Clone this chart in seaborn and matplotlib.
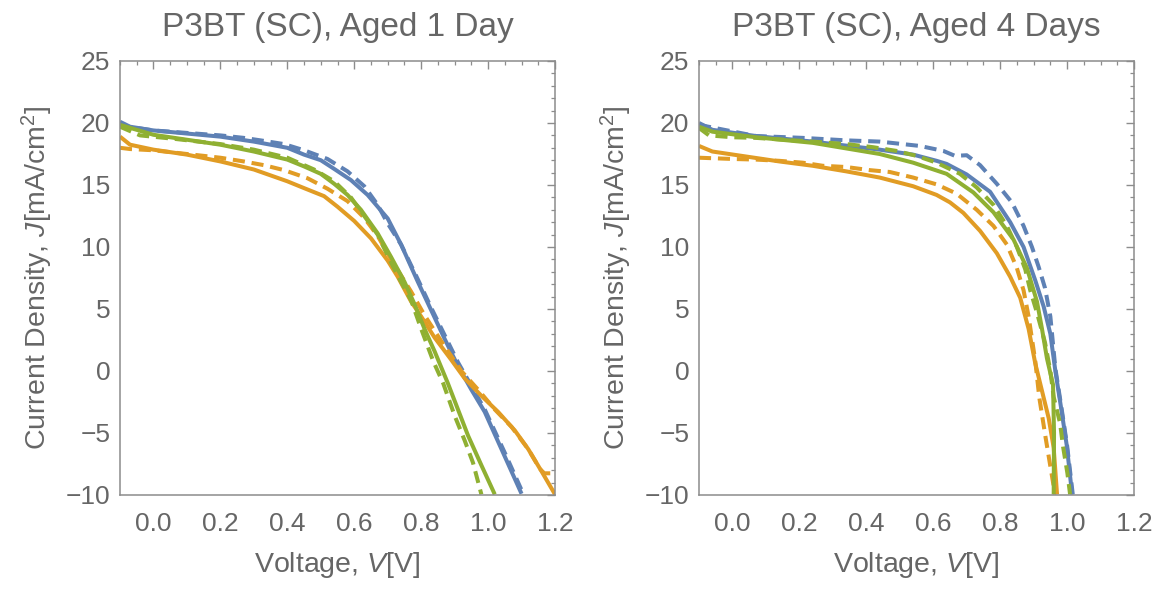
import matplotlib
matplotlib.use("Agg")
import matplotlib.pyplot as plt
import seaborn as sns
import pandas as pd
from matplotlib.ticker import MultipleLocator, FormatStrFormatter

# ---------------- data ----------------
titles = ["P3BT (SC), Aged 1 Day", "P3BT (SC), Aged 4 Days"]

# Aged 1 day
d1_blue_solid_v = [-0.10, -0.07, 0.00, 0.10, 0.20, 0.30, 0.40, 0.45, 0.50, 0.54, 0.59, 0.64, 0.70, 0.74, 0.79, 0.83, 0.87, 0.91, 0.95, 0.99, 1.05, 1.10]
d1_blue_solid_j = [20.1, 19.7, 19.4, 19.15, 18.9, 18.5, 18.0, 17.45, 17.0, 16.3, 15.4, 14.2, 12.3, 10.2, 7.2, 4.9, 2.6, 0.4, -1.5, -3.3, -6.9, -9.9]
d1_blue_dash_v = [-0.10, 0.00, 0.10, 0.20, 0.27, 0.32, 0.39, 0.45, 0.52, 0.58, 0.63, 0.67, 0.70, 0.74, 0.79, 0.83, 0.87, 0.91, 0.95, 0.99, 1.05, 1.11]
d1_blue_dash_j = [19.8, 19.4, 19.2, 19.0, 18.8, 18.6, 18.3, 17.8, 17.1, 16.1, 14.9, 13.4, 11.9, 10.2, 7.4, 5.1, 2.9, 0.7, -1.2, -3.1, -6.6, -10.2]
d1_orange_solid_v = [-0.10, -0.07, 0.00, 0.10, 0.20, 0.30, 0.40, 0.45, 0.51, 0.55, 0.60, 0.65, 0.70, 0.73, 0.77, 0.80, 0.84, 0.89, 0.93, 0.98, 1.03, 1.08, 1.12, 1.16, 1.20]
d1_orange_solid_j = [18.9, 18.25, 17.85, 17.45, 16.9, 16.25, 15.3, 14.75, 14.1, 13.25, 12.1, 10.7, 8.9, 7.6, 5.6, 4.4, 2.7, 0.9, -0.6, -2.0, -3.3, -4.8, -6.3, -8.1, -9.95]
d1_orange_dash_v = [-0.10, -0.07, 0.00, 0.10, 0.20, 0.27, 0.33, 0.39, 0.46, 0.52, 0.58, 0.63, 0.67, 0.71, 0.77, 0.81, 0.87, 0.92, 0.97, 1.02, 1.07, 1.12, 1.155, 1.168, 1.20]
d1_orange_dash_j = [18.0, 17.9, 17.8, 17.5, 17.2, 16.9, 16.6, 16.2, 15.55, 14.7, 13.7, 12.35, 10.9, 9.0, 6.4, 4.5, 2.0, 0.0, -1.5, -3.1, -4.5, -6.3, -7.9, -8.25, -8.25]
d1_green_solid_v = [-0.10, 0.00, 0.10, 0.20, 0.30, 0.40, 0.45, 0.50, 0.54, 0.58, 0.62, 0.67, 0.71, 0.75, 0.78, 0.81, 0.84, 0.88, 0.94, 0.98, 1.02]
d1_green_solid_j = [19.85, 19.05, 18.65, 18.25, 17.7, 17.05, 16.5, 15.9, 15.1, 14.2, 13.0, 11.1, 9.2, 7.2, 5.4, 3.4, 1.6, -1.0, -5.2, -7.6, -9.95]
d1_green_dash_v = [-0.10, -0.04, 0.07, 0.20, 0.30, 0.40, 0.48, 0.54, 0.59, 0.63, 0.67, 0.70, 0.73, 0.77, 0.80, 0.836, 0.866, 0.90, 0.93, 0.955, 0.98]
d1_green_dash_j = [19.7, 19.0, 18.7, 18.3, 17.85, 17.2, 16.25, 15.3, 14.0, 12.5, 11.0, 9.3, 7.7, 5.7, 3.4, 0.8, -1.0, -3.6, -5.6, -7.4, -9.95]

# Aged 4 days
d4_blue_solid_v = [-0.10, -0.06, 0.07, 0.24, 0.44, 0.54, 0.61, 0.64, 0.70, 0.77, 0.83, 0.87, 0.905, 0.93, 0.95, 0.965, 0.984, 0.999, 1.015]
d4_blue_solid_j = [20.0, 19.45, 18.95, 18.5, 17.85, 17.45, 16.95, 16.7, 15.85, 14.45, 12.0, 10.0, 7.3, 5.2, 3.0, 0.0, -3.3, -6.0, -9.95]
d4_blue_dash_v = [-0.10, 0.07, 0.21, 0.34, 0.44, 0.56, 0.63, 0.665, 0.70, 0.74, 0.79, 0.835, 0.87, 0.895, 0.915, 0.934, 0.95, 0.965, 0.984, 1.00, 1.017]
d4_blue_dash_j = [19.85, 18.95, 18.8, 18.6, 18.5, 18.15, 17.75, 17.35, 17.4, 16.6, 15.1, 13.6, 11.7, 10.0, 8.4, 6.7, 4.4, 0.2, -3.1, -6.0, -9.95]
d4_orange_solid_v = [-0.10, -0.06, 0.04, 0.14, 0.24, 0.34, 0.44, 0.54, 0.61, 0.65, 0.69, 0.74, 0.79, 0.83, 0.86, 0.885, 0.905, 0.93, 0.945, 0.96, 0.97]
d4_orange_solid_j = [18.15, 17.7, 17.3, 16.9, 16.55, 16.1, 15.6, 14.9, 14.2, 13.6, 12.75, 11.3, 9.5, 7.6, 5.9, 3.4, 0.6, -2.15, -3.8, -6.2, -9.95]
d4_orange_dash_v = [-0.10, 0.00, 0.07, 0.14, 0.21, 0.27, 0.34, 0.41, 0.47, 0.54, 0.61, 0.67, 0.73, 0.78, 0.82, 0.85, 0.87, 0.885, 0.905, 0.917, 0.936, 0.951, 0.964]
d4_orange_dash_j = [17.2, 17.1, 17.05, 16.95, 16.8, 16.55, 16.45, 16.2, 16.05, 15.6, 15.05, 14.3, 13.0, 11.7, 10.2, 8.3, 6.5, 4.4, 0.8, -2.15, -5.4, -7.85, -9.95]
d4_green_solid_v = [-0.10, -0.06, 0.07, 0.24, 0.44, 0.54, 0.64, 0.72, 0.78, 0.84, 0.88, 0.91, 0.925, 0.94, 0.958, 0.961, 0.960]
d4_green_solid_j = [19.7, 19.3, 18.85, 18.4, 17.5, 16.8, 15.9, 14.4, 12.8, 10.6, 8.3, 5.6, 3.4, 1.0, -1.1, -5.0, -9.95]
d4_green_dash_v = [-0.10, -0.07, 0.00, 0.07, 0.24, 0.34, 0.42, 0.49, 0.55, 0.61, 0.68, 0.73, 0.78, 0.82, 0.85, 0.875, 0.89, 0.91, 0.934, 0.95, 0.96, 0.979, 0.988, 1.001, 1.009]
d4_green_dash_j = [19.6, 19.0, 18.85, 18.8, 18.5, 18.3, 18.05, 17.75, 17.35, 16.8, 15.9, 14.8, 13.4, 11.7, 10.0, 8.2, 6.5, 4.7, 2.3, 0.0, -2.1, -4.2, -6.1, -8.25, -9.95]

# ---------------- styling ----------------
sns.set_theme(style="white")
plt.rcParams["font.family"] = ["Liberation Sans", "DejaVu Sans"]
plt.rcParams["mathtext.fontset"] = "custom"
plt.rcParams["mathtext.rm"] = "Liberation Sans"
plt.rcParams["mathtext.it"] = "Liberation Sans:italic"
plt.rcParams["lines.solid_capstyle"] = "butt"
plt.rcParams["lines.dash_capstyle"] = "butt"
plt.rcParams["lines.solid_joinstyle"] = "round"

TEXT = "#666666"
FRAME = "#8c8c8c"
colors = {"blue": "#5E81B5", "orange": "#E19C24", "green": "#8FB032"}
LW = 2.9
DASH = (3.0, 1.7)

panels = [
    [("blue", "solid", d1_blue_solid_v, d1_blue_solid_j),
     ("blue", "dash", d1_blue_dash_v, d1_blue_dash_j),
     ("orange", "solid", d1_orange_solid_v, d1_orange_solid_j),
     ("orange", "dash", d1_orange_dash_v, d1_orange_dash_j),
     ("green", "solid", d1_green_solid_v, d1_green_solid_j),
     ("green", "dash", d1_green_dash_v, d1_green_dash_j)],
    [("blue", "solid", d4_blue_solid_v, d4_blue_solid_j),
     ("blue", "dash", d4_blue_dash_v, d4_blue_dash_j),
     ("orange", "solid", d4_orange_solid_v, d4_orange_solid_j),
     ("orange", "dash", d4_orange_dash_v, d4_orange_dash_j),
     ("green", "solid", d4_green_solid_v, d4_green_solid_j),
     ("green", "dash", d4_green_dash_v, d4_green_dash_j)],
]

fig = plt.figure(figsize=(11.61, 5.90), dpi=100)
W, H = 1161, 590
axes_px = [(120, 61, 435, 434), (699, 61, 435, 434)]

for (x0, y0, w, h), title, series in zip(axes_px, titles, panels):
    ax = fig.add_axes([x0 / W, 1 - (y0 + h) / H, w / W, h / H])
    for cname, style, v, j in series:
        df = pd.DataFrame({"V": v, "J": j})
        sns.lineplot(data=df, x="V", y="J", ax=ax, color=colors[cname],
                     linewidth=LW, sort=False, estimator=None,
                     linestyle="-" if style == "solid" else (0, DASH))
    ax.set_xlim(-0.1, 1.2)
    ax.set_ylim(-10, 25)
    ax.xaxis.set_major_locator(MultipleLocator(0.2))
    ax.xaxis.set_minor_locator(MultipleLocator(0.05))
    ax.yaxis.set_major_locator(MultipleLocator(5))
    ax.yaxis.set_minor_locator(MultipleLocator(1))
    ax.xaxis.set_major_formatter(FormatStrFormatter("%.1f"))
    ax.tick_params(which="both", direction="in", top=True, right=True,
                   color=FRAME, labelcolor=TEXT, labelsize=19)
    ax.tick_params(which="major", length=6, width=1.0)
    ax.tick_params(which="minor", length=3.2, width=0.9)
    ax.tick_params(axis="x", which="major", pad=12)
    ax.tick_params(axis="y", which="major", pad=7)
    for s in ax.spines.values():
        s.set_color(FRAME)
        s.set_linewidth(1.1)
    ax.set_xlabel(r"Voltage, $\mathit{V}$[V]", color=TEXT, fontsize=20.5, labelpad=10)
    ax.set_ylabel(r"Current Density, $\mathit{J}$[mA/cm$^2$]", color=TEXT, fontsize=20.5, labelpad=8)
    ax.set_title(title, color=TEXT, fontsize=24, pad=18)
    ax.set_facecolor("white")

fig.savefig("out.png", dpi=100, facecolor="white")
